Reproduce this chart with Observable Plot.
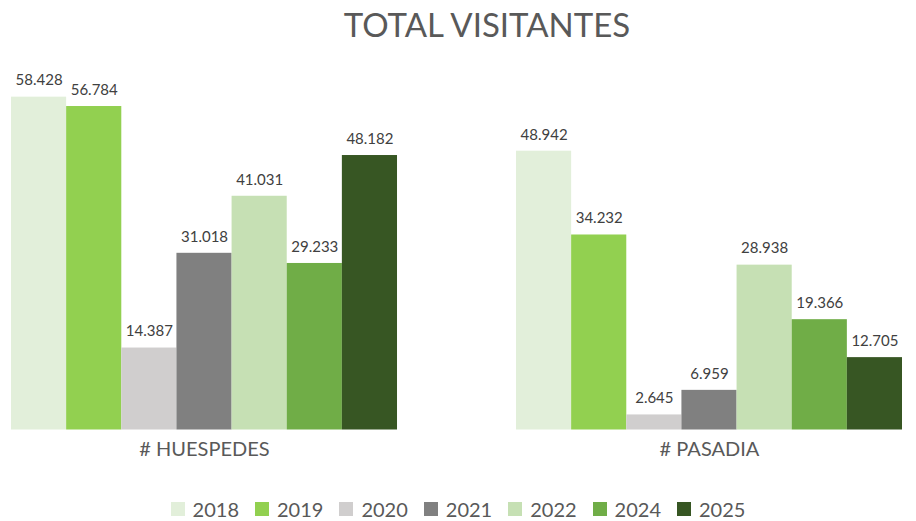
<!DOCTYPE html>
<html>
<head>
<meta charset="utf-8">
<script src="https://cdn.jsdelivr.net/npm/d3@7"></script>
<script src="https://cdn.jsdelivr.net/npm/@observablehq/plot@0.6"></script>
<style>
  html, body { margin: 0; padding: 0; background: #fff; overflow: hidden; }
  body { width: 916px; height: 521px; font-family: Lato, "Open Sans", sans-serif; }
  #title { height: 46px; line-height: 48px; font-size: 33px; color: #595959; text-align: center; padding-left: 58px; }
  #legend { display: flex; justify-content: center; align-items: flex-start; height: 27px; box-sizing: border-box; padding-top: 3px; line-height: 24px; font-size: 20px; color: #595959; }
  #legend .item { display: flex; align-items: center; margin: 0 8px; }
  #legend .sw { width: 14px; height: 14px; margin-right: 8px; }
</style>
</head>
<body>
<div id="title">TOTAL VISITANTES</div>
<div id="chart"></div>
<div id="legend"></div>
<script>
const categories = ["# HUESPEDES", "# PASADIA"];
const years = ["2018", "2019", "2020", "2021", "2022", "2024", "2025"];
const huespedes = [58428, 56784, 14387, 31018, 41031, 29233, 48182];
const pasadia = [48942, 34232, 2645, 6959, 28938, 19366, 12705];
const colors = ["#E2EFDA", "#92D050", "#D0CECE", "#808080", "#C6E0B4", "#70AD47", "#375623"];

const series = [huespedes, pasadia];
const data = [];
categories.forEach((c, i) => years.forEach((y, j) => data.push({cat: c, year: y, value: series[i][j]})));

const loc = d3.formatLocale({decimal: ",", thousands: ".", grouping: [3], currency: ["", "€"]});
const fmt = loc.format(",");

const chart = Plot.plot({
  width: 916,
  height: 448,
  marginLeft: 11,
  marginRight: 14,
  marginTop: 41.7,
  marginBottom: 64.5,
  style: {fontFamily: "Lato, sans-serif", background: "#fff"},
  fx: {domain: categories, paddingInner: 0.2356, paddingOuter: 0, round: false, axis: null, label: null},
  x: {domain: years, padding: 0, round: false, axis: null, label: null},
  y: {domain: [0, 60000], axis: null},
  color: {domain: years, range: colors},
  marks: [
    Plot.barY(data, {fx: "cat", x: "year", y: "value", fill: "year"}),
    Plot.text(data, {fx: "cat", x: "year", y: "value", text: d => fmt(d.value), dy: -16.5, fontSize: 15, fill: "#404040"}),
    Plot.axisFx({anchor: "bottom", tickSize: 0, tickPadding: 12, fontSize: 20, color: "#595959", label: null})
  ]
});
document.getElementById("chart").appendChild(chart);

const legend = document.getElementById("legend");
years.forEach((y, i) => {
  const it = document.createElement("div");
  it.className = "item";
  const sw = document.createElement("span");
  sw.className = "sw";
  sw.style.background = colors[i];
  const t = document.createElement("span");
  t.textContent = y;
  it.appendChild(sw);
  it.appendChild(t);
  legend.appendChild(it);
});
</script>
</body>
</html>
